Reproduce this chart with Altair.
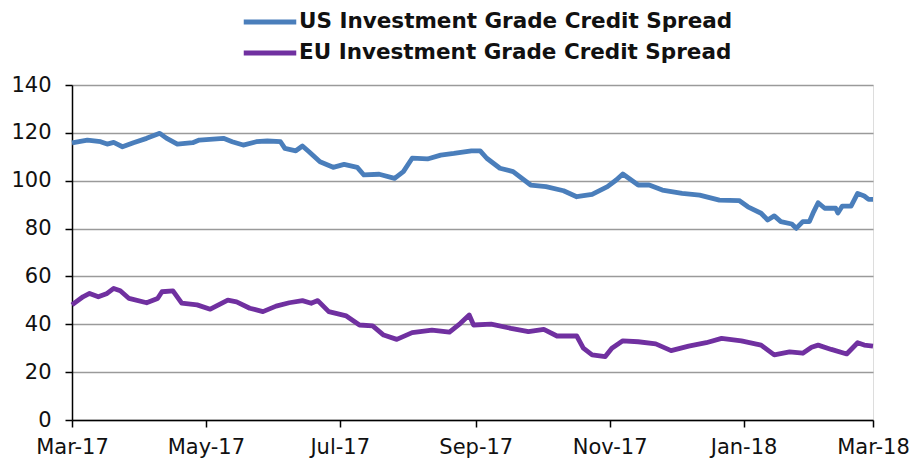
import altair as alt
import pandas as pd

us_dates = [
    "2017-03-01", "2017-03-08", "2017-03-14", "2017-03-17", "2017-03-20", "2017-03-24",
    "2017-03-29", "2017-04-04", "2017-04-10", "2017-04-13", "2017-04-18", "2017-04-25",
    "2017-04-28", "2017-05-09", "2017-05-13", "2017-05-18", "2017-05-24", "2017-05-29",
    "2017-06-04", "2017-06-06", "2017-06-11", "2017-06-14", "2017-06-17", "2017-06-22",
    "2017-06-28", "2017-07-03", "2017-07-09", "2017-07-12", "2017-07-19", "2017-07-26",
    "2017-07-30", "2017-08-03", "2017-08-10", "2017-08-16", "2017-08-22", "2017-08-30",
    "2017-09-03", "2017-09-06", "2017-09-12", "2017-09-18", "2017-09-26", "2017-10-03",
    "2017-10-11", "2017-10-17", "2017-10-24", "2017-10-31", "2017-11-04", "2017-11-07",
    "2017-11-14", "2017-11-19", "2017-11-25", "2017-12-04", "2017-12-12", "2017-12-21",
    "2017-12-30", "2018-01-03", "2018-01-09", "2018-01-12", "2018-01-15", "2018-01-18",
    "2018-01-23", "2018-01-25", "2018-01-28", "2018-01-31", "2018-02-02", "2018-02-04",
    "2018-02-07", "2018-02-12", "2018-02-13", "2018-02-15", "2018-02-19", "2018-02-22",
    "2018-02-25", "2018-02-27", "2018-03-01",
]
us_values = [
    115.8, 117.0, 116.3, 115.3, 116.0, 114.2,
    115.9, 117.7, 119.8, 117.8, 115.3, 115.9,
    117.0, 117.7, 116.3, 114.9, 116.3, 116.6,
    116.3, 113.5, 112.5, 114.5, 112.1, 107.9,
    105.6, 106.8, 105.6, 102.4, 102.7, 101.0,
    103.8, 109.4, 109.1, 110.7, 111.4, 112.5,
    112.5, 109.4, 105.2, 103.8, 98.2, 97.5,
    95.8, 93.3, 94.3, 97.5, 100.3, 102.8,
    98.2, 98.2, 96.1, 94.7, 94.0, 91.9,
    91.7, 89.1, 86.4, 83.6, 85.3, 82.9,
    81.9, 80.1, 82.9, 82.9, 87.1, 90.8,
    88.5, 88.5, 86.5, 89.4, 89.4, 94.7,
    93.6, 92.2, 92.2,
]

eu_dates = [
    "2017-03-01", "2017-03-06", "2017-03-09", "2017-03-13", "2017-03-17", "2017-03-20",
    "2017-03-23", "2017-03-27", "2017-04-04", "2017-04-09", "2017-04-11", "2017-04-16",
    "2017-04-20", "2017-04-27", "2017-05-03", "2017-05-11", "2017-05-15", "2017-05-21",
    "2017-05-27", "2017-06-02", "2017-06-08", "2017-06-14", "2017-06-18", "2017-06-21",
    "2017-06-26", "2017-07-04", "2017-07-10", "2017-07-16", "2017-07-21", "2017-07-27",
    "2017-08-03", "2017-08-12", "2017-08-20", "2017-08-25", "2017-08-29", "2017-08-31",
    "2017-09-08", "2017-09-17", "2017-09-25", "2017-10-02", "2017-10-08", "2017-10-17",
    "2017-10-20", "2017-10-24", "2017-10-30", "2017-11-02", "2017-11-07", "2017-11-14",
    "2017-11-22", "2017-11-29", "2017-12-07", "2017-12-15", "2017-12-22", "2017-12-31",
    "2018-01-09", "2018-01-15", "2018-01-22", "2018-01-28", "2018-02-01", "2018-02-04",
    "2018-02-10", "2018-02-17", "2018-02-22", "2018-02-25", "2018-03-01",
]
eu_values = [
    48.1, 51.5, 52.9, 51.5, 52.9, 55.0,
    54.0, 50.8, 49.0, 50.8, 53.6, 54.0,
    48.8, 48.1, 46.3, 50.1, 49.4, 46.7,
    45.3, 47.6, 49.0, 49.9, 48.8, 49.9,
    45.3, 43.5, 39.7, 39.3, 35.5, 33.7,
    36.5, 37.6, 36.7, 40.4, 43.9, 39.7,
    40.1, 38.3, 36.9, 37.9, 35.1, 35.1,
    30.0, 27.2, 26.5, 30.0, 33.1, 32.7,
    31.8, 29.0, 30.9, 32.3, 34.1, 33.1,
    31.3, 27.2, 28.5, 27.9, 30.4, 31.3,
    29.5, 27.6, 32.3, 31.3, 30.9,
]

series_names = ["US Investment Grade Credit Spread", "EU Investment Grade Credit Spread"]
series_colors = ["#4A7EBB", "#7030A0"]
y_ticks = [0, 20, 40, 60, 80, 100, 120, 140]

df = pd.concat([
    pd.DataFrame({"date": us_dates, "value": us_values, "series": series_names[0]}),
    pd.DataFrame({"date": eu_dates, "value": eu_values, "series": series_names[1]}),
])

tick_dates = [
    alt.DateTime(year=y, month=m, date=1, utc=True)
    for (y, m) in [(2017, 3), (2017, 5), (2017, 7), (2017, 9), (2017, 11), (2018, 1), (2018, 3)]
]

chart = alt.Chart(df).mark_line(strokeWidth=4.8, strokeJoin="round").encode(
    x=alt.X(
        "date:T",
        scale=alt.Scale(
            type="utc",
            domain=[alt.DateTime(year=2017, month=3, date=1, utc=True),
                    alt.DateTime(year=2018, month=3, date=1, utc=True)],
        ),
        axis=alt.Axis(
            title=None, values=tick_dates, format="%b-%y", grid=False,
            domainColor="#000000", domainWidth=1.5, tickColor="#000000", tickWidth=1.5,
            tickSize=7, labelFont="DejaVu Sans", labelFontSize=21, labelColor="#111111",
            labelPadding=9, labelFlush=False, labelOverlap=False,
        ),
    ),
    y=alt.Y(
        "value:Q",
        scale=alt.Scale(domain=[0, 140], nice=False),
        axis=alt.Axis(
            title=None, values=y_ticks, grid=True, gridColor="#9a9a9a", gridWidth=1.5,
            domainColor="#000000", domainWidth=1.5, tickColor="#000000", tickWidth=1.5,
            tickSize=7, labelFont="DejaVu Sans", labelFontSize=21, labelColor="#111111",
            labelPadding=14,
        ),
    ),
    color=alt.Color(
        "series:N",
        scale=alt.Scale(domain=series_names, range=series_colors),
        sort=series_names,
        legend=alt.Legend(
            title=None, orient="none", legendX=185, legendY=-76, direction="vertical",
            symbolType="M-2.5,0H2.5", symbolStrokeWidth=5, symbolSize=441,
            labelFont="DejaVu Sans", labelFontSize=21.5, labelFontWeight="bold",
            labelColor="#111111", rowPadding=7, labelOffset=16, labelLimit=0,
        ),
    ),
).properties(
    width=801,
    height=335,
    autosize=alt.AutoSizeParams(type="none"),
    padding={"left": 72, "top": 85, "right": 40, "bottom": 42},
).configure_view(stroke=None).configure(background="#ffffff")

chart.save("out.html", embed_options={"renderer": "svg", "actions": False})
